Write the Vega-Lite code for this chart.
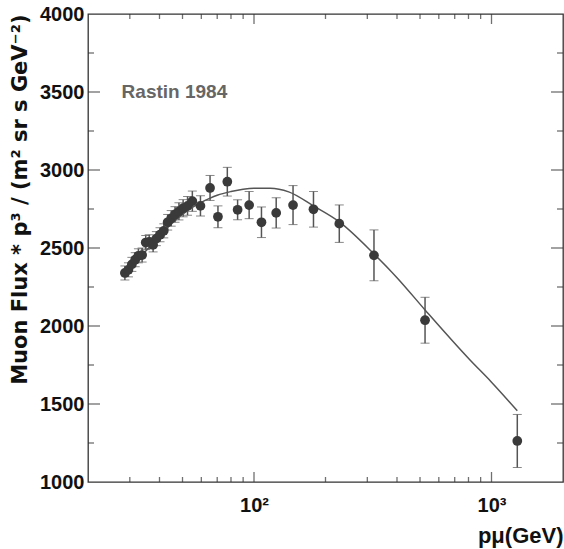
{
  "$schema": "https://vega.github.io/schema/vega-lite/v6.json",
  "width": 475,
  "height": 468,
  "autosize": {"type": "none"},
  "padding": {"left": 88, "top": 14, "right": 1, "bottom": 67},
  "background": "white",
  "view": {"stroke": "#333", "strokeWidth": 1.3},
  "config": {
    "axis": {
      "labelFont": "Liberation Sans",
      "titleFont": "Liberation Sans",
      "labelFontWeight": "bold",
      "titleFontWeight": "bold",
      "labelColor": "#111",
      "titleColor": "#111",
      "ticks": false,
      "domain": false,
      "grid": false
    }
  },
  "datasets": {
    "pts": [
      {"p": 28.6, "flux": 2340, "err": 45},
      {"p": 29.6, "flux": 2360, "err": 45},
      {"p": 30.6, "flux": 2395, "err": 45},
      {"p": 31.6, "flux": 2425, "err": 45},
      {"p": 32.6, "flux": 2450, "err": 45},
      {"p": 33.8, "flux": 2455, "err": 45},
      {"p": 35.0, "flux": 2535, "err": 45},
      {"p": 36.2, "flux": 2540, "err": 45},
      {"p": 37.6, "flux": 2520, "err": 45},
      {"p": 38.8, "flux": 2560, "err": 45},
      {"p": 40.2, "flux": 2585, "err": 45},
      {"p": 41.7, "flux": 2610, "err": 45},
      {"p": 43.3, "flux": 2665, "err": 50},
      {"p": 44.8, "flux": 2690, "err": 50},
      {"p": 46.5, "flux": 2715, "err": 50},
      {"p": 48.3, "flux": 2735, "err": 55},
      {"p": 50.3, "flux": 2755, "err": 55},
      {"p": 52.5, "flux": 2770, "err": 60},
      {"p": 55.0, "flux": 2800, "err": 65},
      {"p": 59.5, "flux": 2770, "err": 65},
      {"p": 65.3, "flux": 2885, "err": 80},
      {"p": 70.5, "flux": 2700, "err": 70},
      {"p": 77.2, "flux": 2925, "err": 92},
      {"p": 85.3, "flux": 2745, "err": 64},
      {"p": 95.4, "flux": 2775, "err": 87},
      {"p": 107.5, "flux": 2665, "err": 98},
      {"p": 124, "flux": 2725, "err": 97},
      {"p": 146, "flux": 2775, "err": 125},
      {"p": 178, "flux": 2748, "err": 114},
      {"p": 228.6, "flux": 2656, "err": 120},
      {"p": 320, "flux": 2453, "err": 163},
      {"p": 525, "flux": 2037, "err": 147},
      {"p": 1284, "flux": 1263, "err": 170}
    ],
    "curve": [
      {"p": 28, "flux": 2340},
      {"p": 30, "flux": 2375},
      {"p": 33, "flux": 2440},
      {"p": 36, "flux": 2500},
      {"p": 40, "flux": 2580},
      {"p": 45, "flux": 2655},
      {"p": 50, "flux": 2715},
      {"p": 55, "flux": 2760},
      {"p": 60, "flux": 2793},
      {"p": 65, "flux": 2818},
      {"p": 70, "flux": 2838},
      {"p": 80, "flux": 2862},
      {"p": 90, "flux": 2877},
      {"p": 100, "flux": 2883},
      {"p": 117, "flux": 2883},
      {"p": 140, "flux": 2860},
      {"p": 178, "flux": 2770},
      {"p": 228, "flux": 2669},
      {"p": 320, "flux": 2462},
      {"p": 400, "flux": 2310},
      {"p": 525, "flux": 2103},
      {"p": 812, "flux": 1782},
      {"p": 1000, "flux": 1640},
      {"p": 1284, "flux": 1457}
    ],
    "xminor": [
      {"p": 30}, {"p": 40}, {"p": 50}, {"p": 60}, {"p": 70}, {"p": 80}, {"p": 90},
      {"p": 200}, {"p": 300}, {"p": 400}, {"p": 500}, {"p": 600}, {"p": 700}, {"p": 800}, {"p": 900}
    ],
    "xmajor": [{"p": 100}, {"p": 1000}],
    "yminor": [{"v": 1250}, {"v": 1750}, {"v": 2250}, {"v": 2750}, {"v": 3250}, {"v": 3750}],
    "ymajor": [{"v": 1500}, {"v": 2000}, {"v": 2500}, {"v": 3000}, {"v": 3500}]
  },
  "encoding": {
    "x": {"type": "quantitative", "scale": {"type": "log", "domain": [20, 2000], "nice": false}, "title": "pμ(GeV)"},
    "y": {"type": "quantitative", "scale": {"domain": [1000, 4000], "nice": false, "zero": false}, "title": "Muon Flux * p³ / (m² sr s GeV⁻²)"}
  },
  "layer": [
    {
      "data": {"name": "xminor"},
      "mark": {"type": "tick", "orient": "vertical", "size": 5, "thickness": 1.3, "color": "#333", "yOffset": -2.5},
      "encoding": {"x": {"field": "p", "type": "quantitative", "title": "pμ(GeV)"}, "y": {"datum": 1000, "type": "quantitative", "title": "Muon Flux * p³ / (m² sr s GeV⁻²)"}}
    },
    {
      "data": {"name": "xminor"},
      "mark": {"type": "tick", "orient": "vertical", "size": 5, "thickness": 1.3, "color": "#333", "yOffset": 2.5},
      "encoding": {"x": {"field": "p", "type": "quantitative", "title": "pμ(GeV)"}, "y": {"datum": 4000, "type": "quantitative", "title": "Muon Flux * p³ / (m² sr s GeV⁻²)"}}
    },
    {
      "data": {"name": "xmajor"},
      "mark": {"type": "tick", "orient": "vertical", "size": 10, "thickness": 1.3, "color": "#333", "yOffset": -5},
      "encoding": {"x": {"field": "p", "type": "quantitative", "title": "pμ(GeV)"}, "y": {"datum": 1000, "type": "quantitative", "title": "Muon Flux * p³ / (m² sr s GeV⁻²)"}}
    },
    {
      "data": {"name": "xmajor"},
      "mark": {"type": "tick", "orient": "vertical", "size": 10, "thickness": 1.3, "color": "#333", "yOffset": 5},
      "encoding": {"x": {"field": "p", "type": "quantitative", "title": "pμ(GeV)"}, "y": {"datum": 4000, "type": "quantitative", "title": "Muon Flux * p³ / (m² sr s GeV⁻²)"}}
    },
    {
      "data": {"name": "yminor"},
      "mark": {"type": "tick", "orient": "horizontal", "size": 6, "thickness": 1.3, "color": "#333", "xOffset": 3},
      "encoding": {"y": {"field": "v", "type": "quantitative", "title": "Muon Flux * p³ / (m² sr s GeV⁻²)"}, "x": {"datum": 20, "type": "quantitative", "title": "pμ(GeV)"}}
    },
    {
      "data": {"name": "yminor"},
      "mark": {"type": "tick", "orient": "horizontal", "size": 6, "thickness": 1.3, "color": "#333", "xOffset": -3},
      "encoding": {"y": {"field": "v", "type": "quantitative", "title": "Muon Flux * p³ / (m² sr s GeV⁻²)"}, "x": {"datum": 2000, "type": "quantitative", "title": "pμ(GeV)"}}
    },
    {
      "data": {"name": "ymajor"},
      "mark": {"type": "tick", "orient": "horizontal", "size": 12, "thickness": 1.3, "color": "#333", "xOffset": 6},
      "encoding": {"y": {"field": "v", "type": "quantitative", "title": "Muon Flux * p³ / (m² sr s GeV⁻²)"}, "x": {"datum": 20, "type": "quantitative", "title": "pμ(GeV)"}}
    },
    {
      "data": {"name": "ymajor"},
      "mark": {"type": "tick", "orient": "horizontal", "size": 12, "thickness": 1.3, "color": "#333", "xOffset": -6},
      "encoding": {"y": {"field": "v", "type": "quantitative", "title": "Muon Flux * p³ / (m² sr s GeV⁻²)"}, "x": {"datum": 2000, "type": "quantitative", "title": "pμ(GeV)"}}
    },
    {
      "data": {"name": "pts"},
      "mark": {"type": "errorbar", "ticks": {"size": 9, "color": "#555", "strokeWidth": 1.5}, "rule": {"color": "#555", "strokeWidth": 1.5}},
      "encoding": {
        "x": {"field": "p", "type": "quantitative", "title": "pμ(GeV)"},
        "y": {"field": "flux", "type": "quantitative", "title": "Muon Flux * p³ / (m² sr s GeV⁻²)"},
        "yError": {"field": "err"}
      }
    },
    {
      "data": {"name": "curve"},
      "mark": {"type": "line", "color": "#555", "strokeWidth": 1.5, "interpolate": "monotone"},
      "encoding": {
        "x": {"field": "p", "type": "quantitative", "title": "pμ(GeV)"},
        "y": {"field": "flux", "type": "quantitative", "title": "Muon Flux * p³ / (m² sr s GeV⁻²)"}
      }
    },
    {
      "data": {"name": "pts"},
      "mark": {"type": "circle", "color": "#3a3a3a", "opacity": 1, "size": 95},
      "encoding": {
        "x": {
          "field": "p", "type": "quantitative", "title": "pμ(GeV)",
          "axis": {
            "orient": "bottom", "values": [100, 1000],
            "labelExpr": "datum.value == 100 ? '10²' : '10³'",
            "labelFontSize": 20, "labelPadding": 13,
            "title": "pμ(GeV)", "titleFontSize": 22, "titleAnchor": "end", "titleAlign": "right", "titlePadding": 10
          }
        },
        "y": {
          "field": "flux", "type": "quantitative", "title": "Muon Flux * p³ / (m² sr s GeV⁻²)",
          "axis": {
            "orient": "left", "values": [1000, 1500, 2000, 2500, 3000, 3500, 4000], "format": "d",
            "labelFontSize": 20, "labelPadding": 4,
            "title": "Muon Flux * p³ / (m² sr s GeV⁻²)", "titleFont": "DejaVu Sans", "titleFontSize": 21, "titleAnchor": "end", "titlePadding": 9
          }
        }
      }
    },
    {
      "data": {"values": [{"label": "Rastin 1984"}]},
      "mark": {"type": "text", "font": "Liberation Sans", "fontWeight": "bold", "fontSize": 19, "color": "#666", "align": "left", "baseline": "alphabetic"},
      "encoding": {
        "text": {"field": "label"},
        "x": {"datum": 27.7, "type": "quantitative", "title": "pμ(GeV)"},
        "y": {"datum": 3460, "type": "quantitative", "title": "Muon Flux * p³ / (m² sr s GeV⁻²)"}
      }
    }
  ]
}
